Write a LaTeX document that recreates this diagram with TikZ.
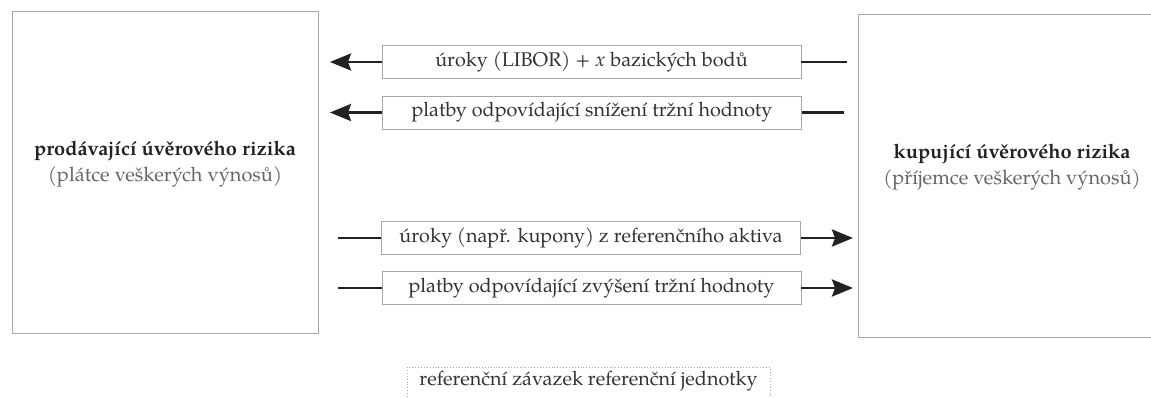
\documentclass[tikz,border=0pt]{standalone}
\usepackage{fontspec}
\setmainfont{TeX Gyre Pagella}
\usetikzlibrary{arrows.meta}
\definecolor{boxline}{HTML}{A8A8A8}
\definecolor{midtext}{HTML}{333333}
\definecolor{subtext}{HTML}{666666}
\definecolor{arrowc}{HTML}{222222}
\tikzset{
  bigbox/.style={draw=boxline, line width=0.9pt},
  flowbox/.style={draw=boxline, line width=0.9pt, minimum width=419pt, minimum height=33pt,
    inner sep=0pt, text=midtext, font=\fontsize{19.8}{23}\selectfont},
  flow/.style={draw=arrowc, line width=2.8pt},
  flowarrow/.style={flow, -{Stealth[length=21pt,width=17pt,inset=3pt]}},
  reftext/.style={draw=boxline, dotted, line width=0.9pt, minimum width=363pt, minimum height=45pt,
    inner ysep=4pt, text=midtext, font=\fontsize{19.8}{23}\selectfont, anchor=north, align=center},
}
\begin{document}
\begin{tikzpicture}[x=1pt,y=-1pt]
\useasboundingbox (0,0) rectangle (1151,397);
\clip (0,0) rectangle (1151,397);
\fill[white] (0,0) rectangle (1151,397);
% big boxes
\node[bigbox, minimum width=306pt, minimum height=322pt, inner sep=0pt] (seller) at (165,172) {};
\node[bigbox, minimum width=308pt, minimum height=323pt, inner sep=0pt] (buyer) at (1012,175.5) {};
\node[align=center, font=\fontsize{20}{26}\selectfont] (sellertxt) at (165,164)
  {\textbf{\textcolor{arrowc}{prodávající úvěrového rizika}}\\\textcolor{subtext}{(plátce veškerých výnosů)}};
\node[align=center, font=\fontsize{20}{26}\selectfont] (buyertxt) at (1012,167)
  {\textbf{\textcolor{arrowc}{kupující úvěrového rizika}}\\\textcolor{subtext}{(příjemce veškerých výnosů)}};
% flow boxes
\node[flowbox] (f1) at (591.5,62) {úroky (LIBOR) + \textit{x} bazických bodů};
\node[flowbox] (f2) at (592,112.5) {platby odpovídající snížení tržní hodnoty};
\node[flowbox] (f3) at (591,238) {úroky (např. kupony) z referenčního aktiva};
\node[flowbox] (f4) at (591.5,288) {platby odpovídající zvýšení tržní hodnoty};
% connector ends
\coordinate (f1l) at (330,62);
\coordinate (f1r) at (847,62);
\coordinate (f2l) at (330,112.5);
\coordinate (f2r) at (844,112.5);
\coordinate (f3l) at (338,238);
\coordinate (f3r) at (853,238);
\coordinate (f4l) at (338,288);
\coordinate (f4r) at (853,288);
\draw[flowarrow] (f1.west) -- (f1l);
\draw[flow] (f1.east) -- (f1r);
\draw[flowarrow] (f2.west) -- (f2l);
\draw[flow] (f2.east) -- (f2r);
\draw[flow] (f3l) -- (f3.west);
\draw[flowarrow] (f3.east) -- (f3r);
\draw[flow] (f4l) -- (f4.west);
\draw[flowarrow] (f4.east) -- (f4r);
% reference obligation
\node[reftext] (ref) at (588.5,367) {referenční závazek referenční jednotky\\[12pt]};
\end{tikzpicture}
\end{document}
